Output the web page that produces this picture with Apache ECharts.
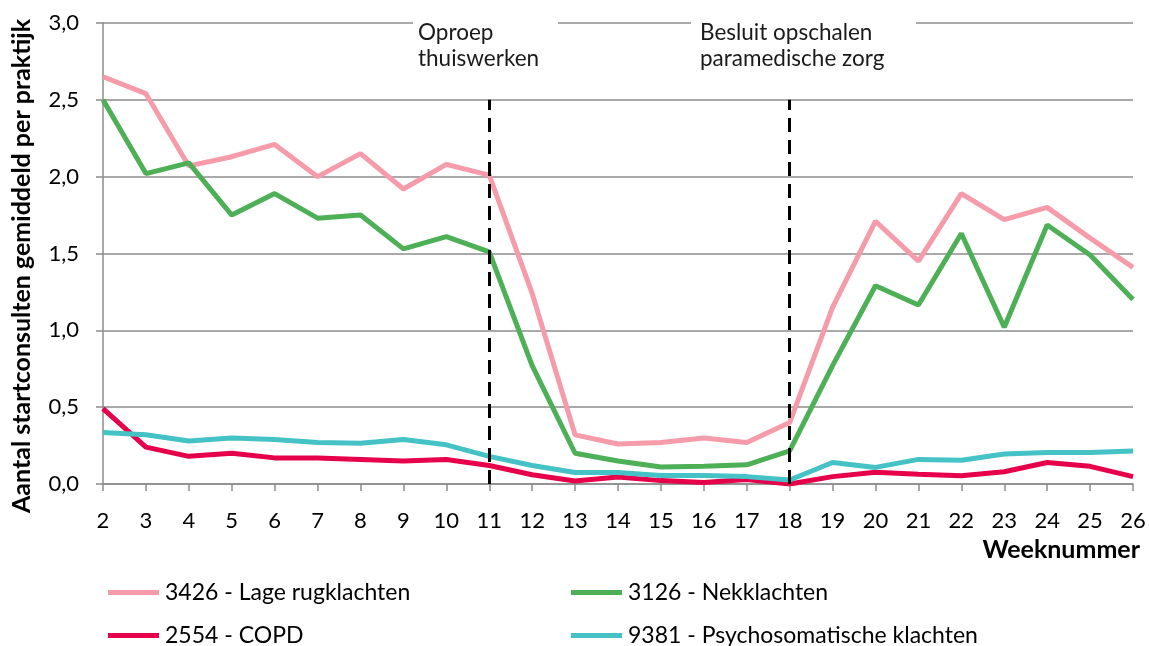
<!DOCTYPE html>
<html>
<head>
<meta charset="utf-8">
<script src="https://cdn.jsdelivr.net/npm/echarts@6/dist/echarts.min.js"></script>
<style>html,body{margin:0;padding:0;background:#fff}#c{width:1149px;height:646px}</style>
</head>
<body>
<div id="c"></div>
<script>
var weeks = ['2','3','4','5','6','7','8','9','10','11','12','13','14','15','16','17','18','19','20','21','22','23','24','25','26'];
var lageRug = [2.65,2.54,2.07,2.13,2.21,2.00,2.15,1.92,2.08,2.01,1.24,0.32,0.26,0.27,0.30,0.27,0.40,1.15,1.71,1.45,1.89,1.72,1.80,1.60,1.41];
var nek = [2.50,2.02,2.09,1.75,1.89,1.73,1.75,1.53,1.61,1.51,0.77,0.20,0.15,0.11,0.115,0.125,0.215,0.77,1.29,1.165,1.63,1.02,1.685,1.49,1.20];
var copd = [0.49,0.24,0.18,0.20,0.17,0.17,0.16,0.15,0.16,0.12,0.06,0.02,0.045,0.022,0.01,0.03,0.0,0.048,0.076,0.063,0.054,0.08,0.14,0.115,0.048];
var psycho = [0.335,0.32,0.28,0.30,0.29,0.27,0.265,0.29,0.255,0.18,0.12,0.075,0.075,0.055,0.055,0.048,0.026,0.14,0.108,0.16,0.155,0.195,0.205,0.205,0.215];
var seriesNames = ['3426 - Lage rugklachten','3126 - Nekklachten','2554 - COPD','9381 - Psychosomatische klachten'];
var colors = ['#F59BAA','#4DAF56','#E6004B','#45C2C6'];
var eventWeeks = ['11','18'];
var annotations = ['Oproep\nthuiswerken','Besluit opschalen\nparamedische zorg'];
var yTitle = 'Aantal startconsulten gemiddeld per praktijk';
var xTitle = 'Weeknummer';

var FONT = 'Lato';
var chart = echarts.init(document.getElementById('c'));
var dataSets = [lageRug, nek, copd, psycho];
var series = dataSets.map(function(d,i){
  return {
    name: seriesNames[i], type:'line', data:d, symbol:'none', smooth:false,
    lineStyle:{width:5,color:colors[i]}, itemStyle:{color:colors[i]}, z: 3
  };
});
series[0].markLine = {
  silent:true, symbol:['none','none'], label:{show:false},
  lineStyle:{color:'#000',type:[14,8],width:3},
  data: eventWeeks.map(function(w){ return [{coord:[w,0]},{coord:[w,2.5]}]; })
};
var gridC = '#8C8C8C';
var legendPos = [[108,581],[571,581],[108,624],[571,624]];
var legends = seriesNames.map(function(n,i){
  return {data:[n],left:legendPos[i][0],top:legendPos[i][1],padding:0,icon:'rect',itemWidth:51,itemHeight:5,
    itemGap:0,itemStyle:{borderWidth:0},
    textStyle:{fontSize:23,color:'#000',fontFamily:FONT,padding:[0,0,0,1]}};
});
chart.setOption({
  animation:false,
  textStyle:{fontFamily:FONT},
  grid:{left:103,right:16,top:23,bottom:162},
  xAxis:{type:'category',data:weeks,boundaryGap:false,
    axisLine:{lineStyle:{color:gridC,width:1.5}},
    axisTick:{show:true,length:7,lineStyle:{color:gridC,width:1.5},alignWithLabel:true},
    axisLabel:{color:'#000',fontSize:22,margin:26,fontFamily:FONT}
  },
  yAxis:{type:'value',min:0,max:3,interval:0.5,
    axisLine:{show:true,lineStyle:{color:gridC,width:1.5}},
    axisTick:{show:true,length:7,lineStyle:{color:gridC,width:1.5}},
    splitLine:{lineStyle:{color:gridC,width:1.5}},
    axisLabel:{color:'#000',fontSize:22,margin:24,fontFamily:FONT,
      formatter:function(v){return v.toFixed(1).replace('.',',');}}
  },
  legend:legends,
  graphic:[
    {type:'rect',shape:{x:413,y:16,width:145,height:14},style:{fill:'#fff'},z:10},
    {type:'rect',shape:{x:691,y:16,width:225,height:14},style:{fill:'#fff'},z:10},
    {type:'text',x:418,y:20,z:11,style:{text:annotations[0],font:'22.5px '+FONT,fill:'#1a1a1a',lineHeight:26}},
    {type:'text',x:700,y:20,z:11,style:{text:annotations[1],font:'22.5px '+FONT,fill:'#1a1a1a',lineHeight:26}},
    {type:'text',x:1140,y:550,z:11,style:{text:xTitle,font:'bold 25px '+FONT,fill:'#000',textAlign:'right',textVerticalAlign:'middle'}},
    {type:'text',x:22,y:266,rotation:Math.PI/2,z:11,style:{text:yTitle,font:'bold 25px '+FONT,fill:'#000',textAlign:'center',textVerticalAlign:'middle'}}
  ],
  series:series
});
</script>
</body>
</html>
